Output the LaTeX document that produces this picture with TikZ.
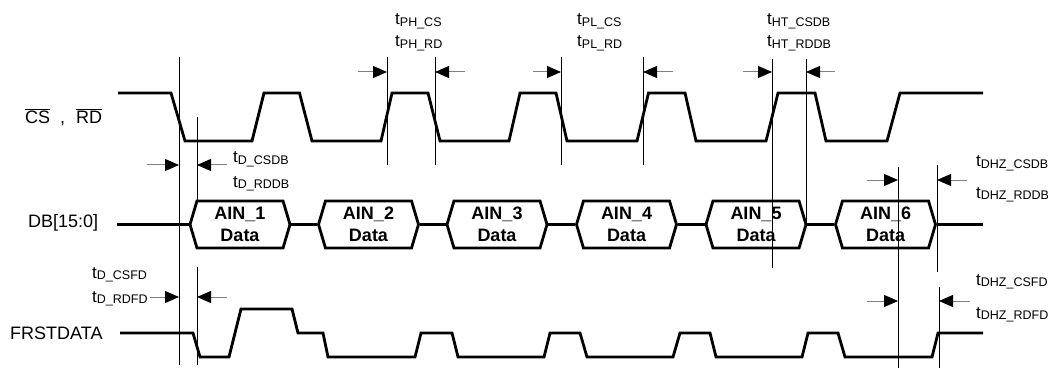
\documentclass[tikz,border=0pt]{standalone}
\usepackage{fontspec}
\setmainfont{Liberation Sans}
\usetikzlibrary{arrows.meta,shapes.symbols}
\newcommand{\tsub}[1]{t\raisebox{-1.5pt}{\fontsize{12.5}{13}\selectfont #1}}
\begin{document}
\begin{tikzpicture}[x=1pt,y=-1pt]
	\tikzstyle{wave} = [line width=2.8pt, line join=miter]
	\tikzstyle{tline} = [line width=0.8pt]
	\tikzstyle{dimarrow} = [gray, line width=1pt, -{Triangle[length=14pt,width=12pt,color=black]}]
	\tikzstyle{tlabel} = [inner sep=0pt, anchor=base west, font=\fontsize{17}{18}\selectfont]
	\tikzstyle{siglabel} = [inner sep=0pt, anchor=west, font=\fontsize{18}{20}\selectfont]
	\tikzstyle{hexbox} = [draw, line width=2.8pt, shape=signal, signal to=west and east, signal pointer angle=147, minimum width=100pt, minimum height=47pt, inner sep=0pt, align=center, font=\fontsize{18}{22}\selectfont\bfseries]
	\useasboundingbox (0,0) rectangle (1048,374);
	% signal names
	\node[siglabel] (C) at (25,117) {$\overline{\hbox{CS}}$\hspace{10pt},\hspace{11pt}$\overline{\hbox{RD}}$};
	\node[siglabel] (B) at (28,223) {DB[15:0]};
	\node[siglabel] (F) at (10,333) {FRSTDATA};
	% CS, RD
	\draw[wave] (118,93) -- (171,93) -- (185,141) -- (252,141) -- (264,93) -- (299.5,93) -- (312,141) -- (381,141) -- (392,93) -- (428,93) -- (440,141) -- (509,141) -- (520,93) -- (556,93) -- (567,141) -- (637,141) -- (648.5,93) -- (685,93) -- (696,141) -- (766,141) -- (778,93) -- (815,93) -- (826,141) -- (887,141) -- (900,93) -- (983,93);
	% DB[15:0]
	\node[hexbox] (D1) at (240,224.5) {AIN\_1\\Data};
	\node[hexbox] (D2) at (368.5,224.5) {AIN\_2\\Data};
	\node[hexbox] (D3) at (497,224.5) {AIN\_3\\Data};
	\node[hexbox] (D4) at (626.5,224.5) {AIN\_4\\Data};
	\node[hexbox] (D5) at (756,224.5) {AIN\_5\\Data};
	\node[hexbox] (D6) at (885.5,224.5) {AIN\_6\\Data};
	\coordinate (DS) at (117,224.5);
	\coordinate (DE) at (983,224.5);
	\draw[wave] (DS) -- (D1.west);
	\draw[wave] (D1.east) -- (D2.west);
	\draw[wave] (D2.east) -- (D3.west);
	\draw[wave] (D3.east) -- (D4.west);
	\draw[wave] (D4.east) -- (D5.west);
	\draw[wave] (D5.east) -- (D6.west);
	\draw[wave] (D6.east) -- (DE);
	% FRSTDATA
	\draw[wave] (120,333) -- (193,333) -- (200,357) -- (229,357) -- (241,309) -- (292,309) -- (298,333) -- (323,333) -- (328,357) -- (415,357) -- (421,333) -- (452,333) -- (458,357) -- (544,357) -- (550,333) -- (580,333) -- (587,357) -- (673,357) -- (680,333) -- (710,333) -- (716,357) -- (802,357) -- (808,333) -- (838,333) -- (845,357) -- (932,357) -- (938,333) -- (983,333);
	% timing lines
	\draw[tline] (179,57) -- (179,365);
	\draw[tline] (197,117) -- (197,202);
	\draw[tline] (197,267) -- (197,365);
	\draw[tline] (387,57) -- (387,165);
	\draw[tline] (435,57) -- (435,165);
	\draw[tline] (561,57) -- (561,165);
	\draw[tline] (643,57) -- (643,165);
	\draw[tline] (772,59) -- (772,268);
	\draw[tline] (806,59) -- (806,222);
	\draw[tline] (898,167) -- (898,368);
	\draw[tline] (937,165) -- (937,272);
	\draw[tline] (939,287) -- (939,368);
	% arrows
	\draw[dimarrow] (147,165) -- (179,165);
	\draw[dimarrow] (227,165) -- (197,165);
	\draw[dimarrow] (358,72) -- (387,72);
	\draw[dimarrow] (465,72) -- (435,72);
	\draw[dimarrow] (533,72) -- (561,72);
	\draw[dimarrow] (673,72) -- (643,72);
	\draw[dimarrow] (743,72) -- (772,72);
	\draw[dimarrow] (835,72) -- (806,72);
	\draw[dimarrow] (867,180) -- (898,180);
	\draw[dimarrow] (967,180) -- (937,180);
	\draw[dimarrow] (150,297) -- (179,297);
	\draw[dimarrow] (227,297) -- (197,297);
	\draw[dimarrow] (867,301) -- (898,301);
	\draw[dimarrow] (970,301) -- (939,301);
	% timing names
	\node[tlabel] (T1) at (395,25) {\tsub{PH\_CS}};
	\node[tlabel] (T2) at (395,47) {\tsub{PH\_RD}};
	\node[tlabel] (T3) at (577,25) {\tsub{PL\_CS}};
	\node[tlabel] (T4) at (577,47) {\tsub{PL\_RD}};
	\node[tlabel] (T5) at (767,25) {\tsub{HT\_CSDB}};
	\node[tlabel] (T6) at (767,47) {\tsub{HT\_RDDB}};
	\node[tlabel] (T7) at (233,163) {\tsub{D\_CSDB}};
	\node[tlabel] (T8) at (233,187) {\tsub{D\_RDDB}};
	\node[tlabel] (T9) at (976,167) {\tsub{DHZ\_CSDB}};
	\node[tlabel] (T10) at (976,198) {\tsub{DHZ\_RDDB}};
	\node[tlabel] (T11) at (976,285) {\tsub{DHZ\_CSFD}};
	\node[tlabel] (T12) at (976,318) {\tsub{DHZ\_RDFD}};
	\node[tlabel] (T13) at (92,278) {\tsub{D\_CSFD}};
	\node[tlabel] (T14) at (92,302) {\tsub{D\_RDFD}};
\end{tikzpicture}
\end{document}
